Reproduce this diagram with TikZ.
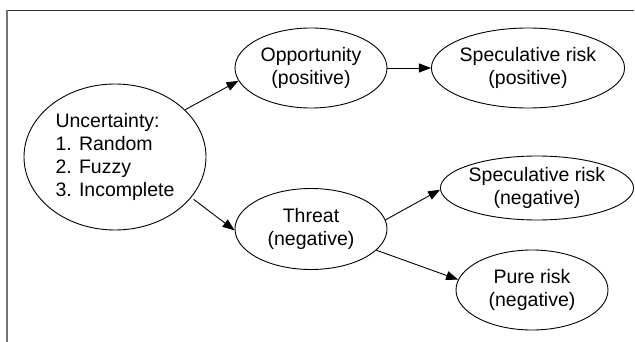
\documentclass[tikz,border=0pt]{standalone}
\usepackage{fontspec}
\setmainfont{Liberation Sans}
\usetikzlibrary{shapes.geometric,arrows.meta}
\begin{document}
\begin{tikzpicture}[x=1pt,y=-1pt,
  oval/.style={draw=black,line width=0.9pt,ellipse,inner sep=0pt,
    align=center,font=\fontsize{19.5}{23}\selectfont},
  link/.style={draw=black,line width=0.9pt,-{Triangle[length=12pt,width=9pt]}}]
\useasboundingbox (0,0) rectangle (635,342);
\fill[white] (0,0) rectangle (635,342);
% frame: only the top and left edges are drawn
\draw[black!80,line width=0.9pt] (7,10) -- (634,10);
\draw[black!55,line width=1.6pt] (7,10) -- (7,342);

\node[oval,minimum width=182pt,minimum height=146pt] (unc) at (115,157)
  {\begin{tabular}{@{}l@{}}Uncertainty:\\1. Random\\2. Fuzzy\\3. Incomplete\end{tabular}};
\node[oval,minimum width=152pt,minimum height=80pt] (opp) at (311,68) {Opportunity\\(positive)};
\node[oval,minimum width=182pt,minimum height=80pt] (spp) at (528,68) {Speculative risk\\(positive)};
\node[oval,minimum width=152pt,minimum height=81pt] (thr) at (311,229) {Threat\\(negative)};
\node[oval,minimum width=182pt,minimum height=64pt] (spn) at (537,188) {Speculative risk\\(negative)};
\node[oval,minimum width=152pt,minimum height=80pt] (pur) at (532,290) {Pure risk\\(negative)};

\draw[link] (unc.34) -- (opp.190);
\draw[link,shorten <=3pt] (unc.-28) -- (thr.181);
\draw[link] (opp.east) -- (spp.west);
\draw[link] (thr.7) -- (spn.181);
\draw[link] (thr.-18) -- (pur.172);
\end{tikzpicture}
\end{document}
